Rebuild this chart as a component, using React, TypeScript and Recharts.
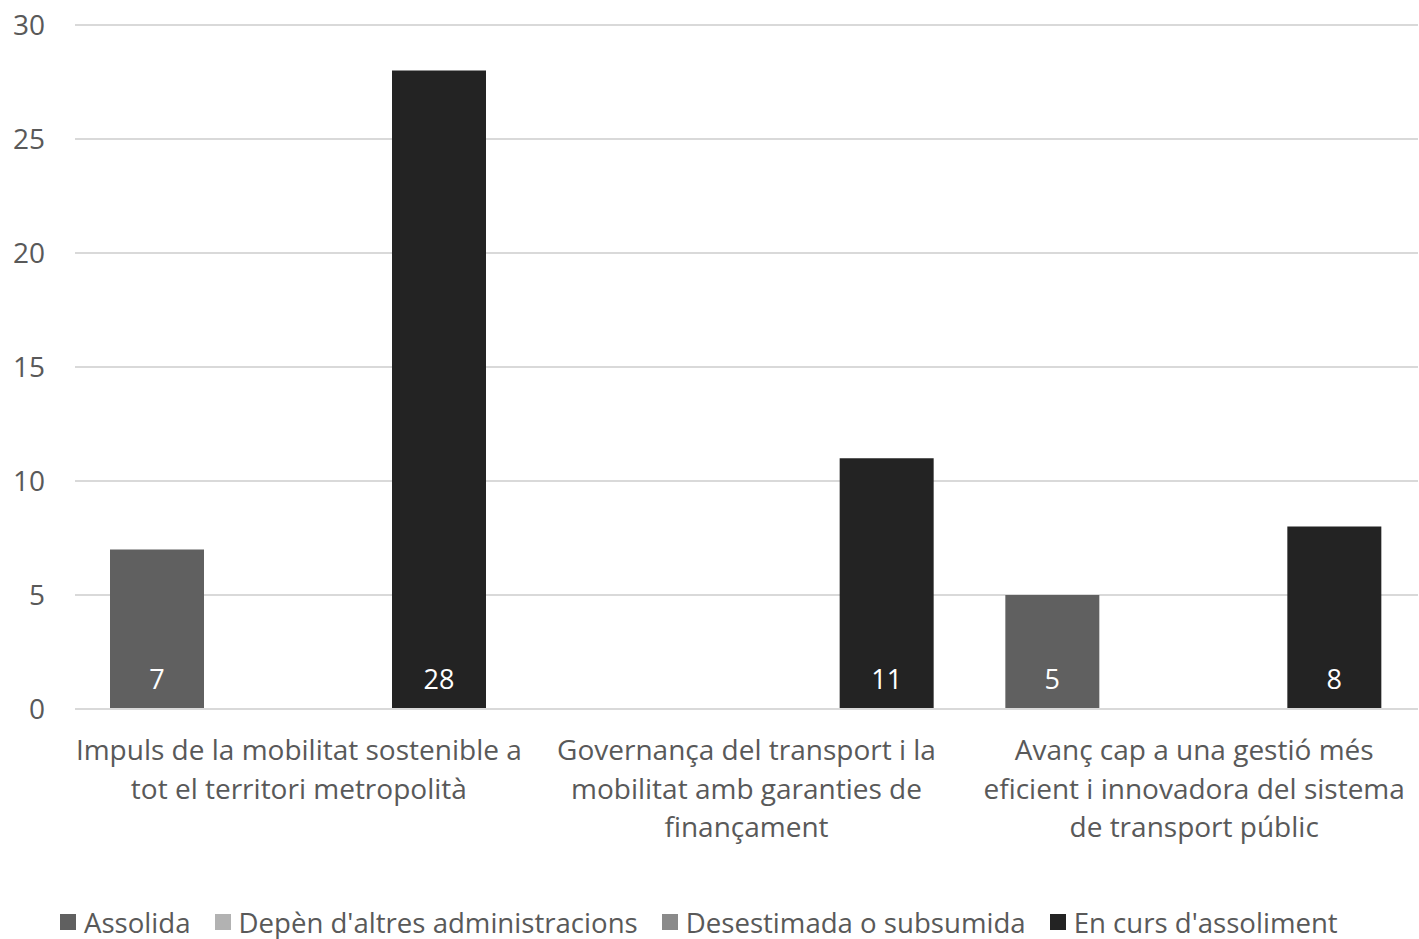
import React from 'react';
import { BarChart, Bar, XAxis, YAxis, CartesianGrid, LabelList } from 'recharts';

const categories = ['cat1', 'cat2', 'cat3'];
const categoryLines = [
  ['Impuls de la mobilitat sostenible a', 'tot el territori metropolità'],
  ['Governança del transport i la', 'mobilitat amb garanties de', 'finançament'],
  ['Avanç cap a una gestió més', 'eficient i innovadora del sistema', 'de transport públic'],
];
const assolida = [7, 0, 5];
const depen = [0, 0, 0];
const desestimada = [0, 0, 0];
const enCurs = [28, 11, 8];
const yTicks = [0, 5, 10, 15, 20, 25, 30];

const seriesNames = ['Assolida', "Depèn d'altres administracions", 'Desestimada o subsumida', "En curs d'assoliment"];
const seriesKeys = ['assolida', 'depen', 'desestimada', 'enCurs'];
const seriesColors = ['#606060', '#b2b2b2', '#8a8a8a', '#232323'];

const data = categories.map((c, i) => ({
  name: c,
  idx: i,
  assolida: assolida[i],
  depen: depen[i],
  desestimada: desestimada[i],
  enCurs: enCurs[i],
}));

const FONT = '"Open Sans", sans-serif';
const TEXT = '#595959';

const CategoryTick = (props: any) => {
  const { x, y, payload } = props;
  const lines = categoryLines[payload.index] || [];
  return (
    <g>
      {lines.map((l, i) => (
        <text key={i} x={x} y={y + 32 + i * 38.5} textAnchor="middle" dominantBaseline="central"
          fill={TEXT} fontSize={28} fontFamily={FONT}>{l}</text>
      ))}
    </g>
  );
};

const ValueLabel = (props: any) => {
  const { x, y, width, height, value } = props;
  if (!value) return null;
  return (
    <text x={x + width / 2} y={y + height - 31} textAnchor="middle" dominantBaseline="central"
      fill="#ffffff" fontSize={27} fontFamily={FONT}>{value}</text>
  );
};

export default function App() {
  return (
    <div style={{ position: 'absolute', left: 0, top: 0, width: 1419, height: 939, background: '#fff' }}>
      <BarChart width={1419} height={939} data={data}
        margin={{ top: 25, right: 1, left: 0, bottom: 80 }}
        barCategoryGap={35} barGap={0}>
        <CartesianGrid vertical={false} stroke="#d9d9d9" strokeWidth={2} />
        <XAxis dataKey="name" height={150} tickLine={false} axisLine={{ stroke: '#d9d9d9', strokeWidth: 2 }}
          tick={<CategoryTick />} interval={0} />
        <YAxis width={75} domain={[0, 30]} ticks={yTicks} axisLine={false} tickLine={false}
          tick={{ fill: TEXT, fontSize: 28, fontFamily: FONT, dx: -22 }} />
        {seriesKeys.map((k, i) => (
          <Bar key={k} dataKey={k} name={seriesNames[i]} fill={seriesColors[i]} isAnimationActive={false}>
            <LabelList dataKey={k} content={<ValueLabel />} />
          </Bar>
        ))}
      </BarChart>
      <div style={{ position: 'absolute', top: 903, left: 60, display: 'flex', alignItems: 'center',
        fontFamily: FONT, fontSize: 27.6, color: TEXT, whiteSpace: 'nowrap' }}>
        {seriesNames.map((n, i) => (
          <div key={n} style={{ display: 'flex', alignItems: 'center', marginRight: 24 }}>
            <span style={{ display: 'inline-block', width: 16, height: 16, background: seriesColors[i], marginRight: 8 }} />
            <span>{n}</span>
          </div>
        ))}
      </div>
    </div>
  );
}
